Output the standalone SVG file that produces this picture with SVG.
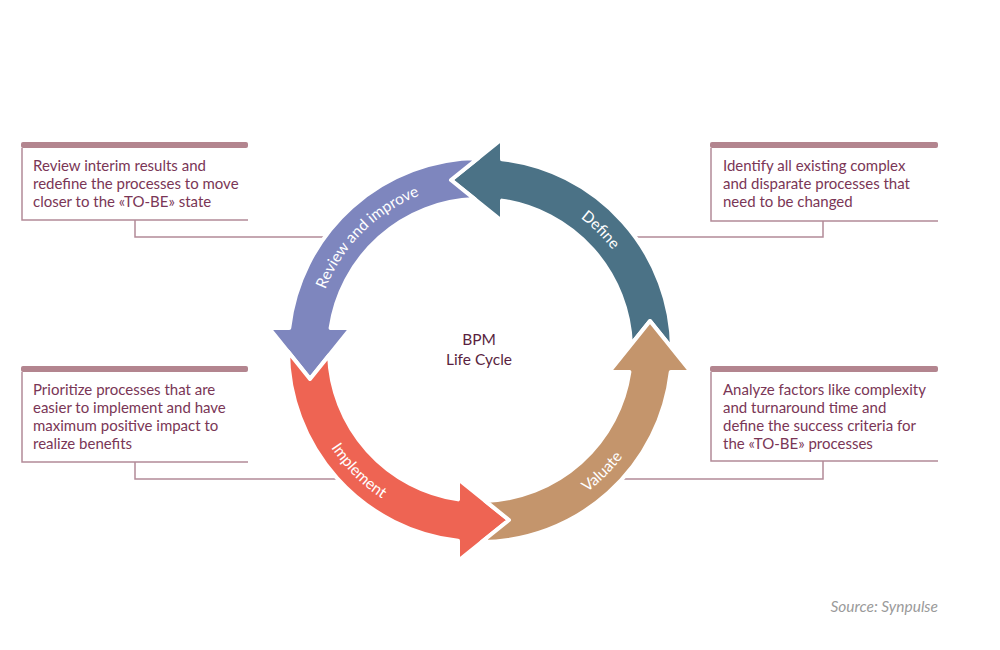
<svg xmlns="http://www.w3.org/2000/svg" xmlns:xlink="http://www.w3.org/1999/xlink" width="1000" height="650" viewBox="0 0 1000 650">
  <style>
    .arrow { stroke: #ffffff; stroke-width: 4; stroke-linejoin: round; }
    .lbl { font-family: Lato, "Liberation Sans", sans-serif; font-size: 15.5px; fill: #ffffff; }
    .box-bar { fill: #B3858F; }
    .box-line { fill: none; stroke: #B38B98; stroke-width: 1.5; }
    .conn { fill: none; stroke: #B38B98; stroke-width: 1.5; }
    .txt { font-family: Lato, "Liberation Sans", sans-serif; font-size: 15px; fill: #7A3656; }
    .center { font-family: Lato, "Liberation Sans", sans-serif; font-size: 15.5px; fill: #5A1F40; text-anchor: middle; }
    .src { font-family: Lato, "Liberation Sans", sans-serif; font-size: 15.5px; font-style: italic; fill: #9A9A9A; text-anchor: end; }
  </style>
  <defs>
    <path id="arrowShape" d="M 1.62 192 L 29 170 L 5.27 150.93 A 151 151 0 0 0 149.39 22 L 129 22 L 170 -29 L 211 22 L 190.74 22 A 192 192 0 0 1 1.62 192 Z"/>
    <path id="cwPath" d="M 480 516 A 166 166 0 1 1 480 184 A 166 166 0 1 1 480 516"/>
    <path id="ccwPath" d="M 480 172 A 178 178 0 1 0 480 528 A 178 178 0 1 0 480 172"/>
  </defs>
  <rect width="1000" height="650" fill="#ffffff"/>

  <g id="connectors">
    <path class="conn" d="M135 220 V237 H330"/>
    <path class="conn" d="M823 221 V237 H630"/>
    <path class="conn" d="M135 462 V479 H342"/>
    <path class="conn" d="M823 461 V479 H618"/>
  </g>

  <g id="define">
    <use xlink:href="#arrowShape" class="arrow" fill="#4B7286" transform="translate(480,350) rotate(-90)"/>
    <text class="lbl" text-anchor="middle"><textPath xlink:href="#cwPath" startOffset="652">Define</textPath></text>
  </g>
  <g id="review">
    <use xlink:href="#arrowShape" class="arrow" fill="#7E86BE" transform="translate(480,350) rotate(180)"/>
    <text class="lbl" text-anchor="middle"><textPath xlink:href="#cwPath" startOffset="391">Review and improve</textPath></text>
  </g>
  <g id="implement">
    <use xlink:href="#arrowShape" class="arrow" fill="#EE6453" transform="translate(480,350) rotate(90)"/>
    <text class="lbl" text-anchor="middle"><textPath xlink:href="#ccwPath" startOffset="419">Implement</textPath></text>
  </g>
  <g id="valuate">
    <use xlink:href="#arrowShape" class="arrow" fill="#C4956C" transform="translate(480,350)"/>
    <text class="lbl" text-anchor="middle"><textPath xlink:href="#ccwPath" startOffset="699">Valuate</textPath></text>
  </g>

  <g id="center-label">
    <text class="center" x="479" y="345">BPM</text>
    <text class="center" x="479" y="365">Life Cycle</text>
  </g>

  <g id="box-review">
    <rect class="box-bar" x="21" y="142" width="227" height="6" rx="2"/>
    <path class="box-line" d="M22 148 V220 H248"/>
    <text class="txt" x="33" y="171">Review interim results and</text>
    <text class="txt" x="33" y="189">redefine the processes to move</text>
    <text class="txt" x="33" y="207">closer to the «TO-BE» state</text>
  </g>
  <g id="box-define">
    <rect class="box-bar" x="710" y="142" width="228" height="6" rx="2"/>
    <path class="box-line" d="M711 148 V221 H938"/>
    <text class="txt" x="723" y="171">Identify all existing complex</text>
    <text class="txt" x="723" y="189">and disparate processes that</text>
    <text class="txt" x="723" y="207">need to be changed</text>
  </g>
  <g id="box-implement">
    <rect class="box-bar" x="21" y="366" width="227" height="6" rx="2"/>
    <path class="box-line" d="M22 372 V462 H248"/>
    <text class="txt" x="33" y="395">Prioritize processes that are</text>
    <text class="txt" x="33" y="413">easier to implement and have</text>
    <text class="txt" x="33" y="431">maximum positive impact to</text>
    <text class="txt" x="33" y="449">realize benefits</text>
  </g>
  <g id="box-valuate">
    <rect class="box-bar" x="710" y="366" width="228" height="6" rx="2"/>
    <path class="box-line" d="M711 372 V461 H938"/>
    <text class="txt" x="723" y="395">Analyze factors like complexity</text>
    <text class="txt" x="723" y="413">and turnaround time and</text>
    <text class="txt" x="723" y="431">define the success criteria for</text>
    <text class="txt" x="723" y="449">the «TO-BE» processes</text>
  </g>

  <text class="src" x="938" y="612">Source: Synpulse</text>
</svg>
